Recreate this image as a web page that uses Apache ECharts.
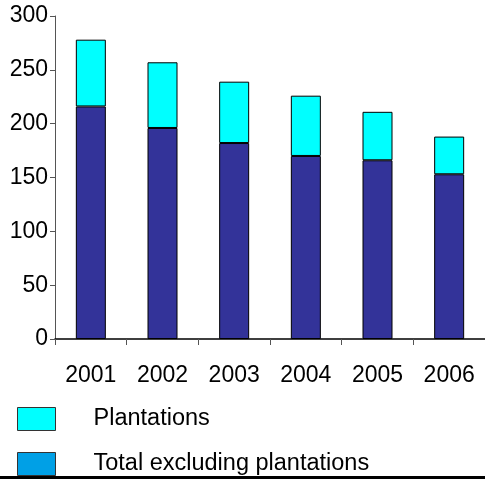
<!DOCTYPE html>
<html>
<head>
<meta charset="utf-8">
<script src="https://cdn.jsdelivr.net/npm/echarts@6/dist/echarts.min.js"></script>
<style>
html, body { margin: 0; padding: 0; background: #fff; }
#chart { width: 485px; height: 479px; }
</style>
</head>
<body>
<div id="chart"></div>
<script>
// years on the x axis
var years = ['2001', '2002', '2003', '2004', '2005', '2006'];
// total excluding plantations (dark part)
var excluding = [216, 196, 182, 170, 166, 153];
// plantations (top part)
var plantations = [62, 61, 57, 56, 45, 35];

var myChart = echarts.init(document.getElementById('chart'));
var font = 'Liberation Sans, Arial, sans-serif';

var option = {
    animation: false,
    grid: { left: 55, top: 16, width: 434, bottom: 140, containLabel: false },
    legend: {
        orient: 'vertical',
        left: 17,
        top: 407,
        padding: 0,
        itemWidth: 38,
        itemHeight: 23,
        itemGap: 21,
        icon: 'rect',
        selectedMode: false,
        textStyle: { fontFamily: font, fontSize: 23.5, color: '#000', padding: [0, 0, 0, 33] },
        data: [
            { name: 'Plantations', itemStyle: { color: '#00ffff', borderColor: '#333', borderWidth: 1 } },
            { name: 'Total excluding plantations', itemStyle: { color: '#00a0e6', borderColor: '#333', borderWidth: 1 } }
        ]
    },
    xAxis: {
        type: 'category',
        data: years,
        axisLine: { lineStyle: { color: '#000', width: 1.5 } },
        axisTick: { show: true, length: 6, lineStyle: { color: '#555' } },
        axisLabel: { fontFamily: font, fontSize: 23, color: '#000', margin: 25 }
    },
    yAxis: {
        type: 'value',
        min: 0,
        max: 300,
        interval: 50,
        splitLine: { show: false },
        axisLine: { show: true, lineStyle: { color: '#555', width: 1 } },
        axisTick: { show: true, length: 5, lineStyle: { color: '#555' } },
        axisLabel: { fontFamily: font, fontSize: 23, color: '#000', margin: 7 }
    },
    series: [
        {
            name: 'Total excluding plantations',
            type: 'bar',
            stack: 'total',
            barWidth: 30,
            data: excluding,
            itemStyle: { color: '#333399', borderColor: '#000', borderWidth: 1 }
        },
        {
            name: 'Plantations',
            type: 'bar',
            stack: 'total',
            barWidth: 30,
            data: plantations,
            itemStyle: { color: '#00ffff', borderColor: '#000', borderWidth: 1 }
        }
    ],
    graphic: [
        { type: 'rect', shape: { x: 0, y: 476, width: 485, height: 3 }, style: { fill: '#000' } }
    ]
};
myChart.setOption(option);
</script>
</body>
</html>
